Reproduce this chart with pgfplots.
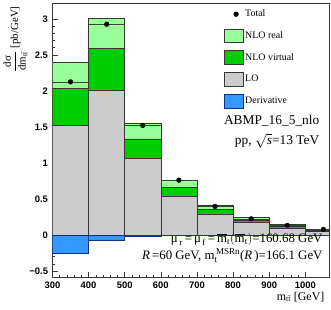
\documentclass[border=0pt]{standalone}
\usepackage{fontspec}
\setmainfont{Liberation Serif}
\newfontfamily\ticksf{Liberation Sans}
\usepackage{amsmath}
\usepackage{pgfplots}
\pgfplotsset{compat=1.18}
\definecolor{nloreal}{RGB}{153,255,153}
\definecolor{nlovirt}{RGB}{0,204,0}
\definecolor{lo}{RGB}{204,204,204}
\definecolor{deriv}{RGB}{51,153,255}
\definecolor{derivline}{RGB}{20,50,130}
\definecolor{edge}{RGB}{55,55,55}
\begin{document}
\begin{tikzpicture}
\begin{axis}[
  scale only axis, width=278.8pt, height=277pt,
  xmin=300, xmax=1065, ymin=-0.59, ymax=3.22,
  xtick={300,400,...,1000}, xticklabels={300,400,500,600,700,800,900,1000},
  minor x tick num=4,
  ytick={-0.5,0,0.5,1,1.5,2,2.5,3}, yticklabels={−0.5,0,0.5,1,1.5,2,2.5,3},
  minor y tick num=4,
  tick align=inside, tick pos=left,
  major tick length=6pt, minor tick length=3pt,
  every tick/.style={edge, line width=0.5pt},
  axis line style={edge, line width=0.6pt},
  ticklabel style={font=\ticksf\bfseries\fontsize{9.5}{10}\selectfont},
  /pgf/number format/assume math mode=true,
  xticklabel style={yshift=-1pt},
  yticklabel style={xshift=-1pt},
  xlabel={m$_{\text{t}\bar{\text{t}}}$ [GeV]},
  xlabel style={font=\fontsize{12}{14}\selectfont, at={(rel axis cs:1,0)}, anchor=north east, yshift=-11pt, xshift=-1pt},
  ylabel={$\dfrac{\text{dσ}}{\text{dm}_{\text{t}\bar{\text{t}}}}$ [pb/GeV]},
  ylabel style={font=\fontsize{11}{13}\selectfont, at={(rel axis cs:-0.078,1)}, anchor=south east},
  legend style={at={(rel axis cs:0.62,0.985)}, anchor=north west, draw=none, fill=none,
    font=\fontsize{10}{12}\selectfont, row sep=7.5pt, inner sep=0pt, legend cell align=left},
]
\addlegendimage{legend image code/.code={\path[draw=none,fill=none] (0pt,-7pt) rectangle (19pt,7pt); \fill[black] (12pt,0) circle (2.4pt);}}
\addlegendimage{legend image code/.code={\draw[fill=nloreal,draw=edge] (0pt,-7pt) rectangle (19pt,7pt);}}
\addlegendimage{legend image code/.code={\draw[fill=nlovirt,draw=edge] (0pt,-7pt) rectangle (19pt,7pt);}}
\addlegendimage{legend image code/.code={\draw[fill=lo,draw=edge] (0pt,-7pt) rectangle (19pt,7pt);}}
\addlegendimage{legend image code/.code={\draw[fill=deriv,draw=derivline] (0pt,-7pt) rectangle (19pt,7pt);}}
\legend{Total, NLO real, NLO virtual, LO, Derivative}

% NLO real (cumulative LO+V+R)
\addplot[ybar interval, fill=nloreal, draw=edge, line width=0.6pt, forget plot] coordinates {
(300,2.40)(400,3.01)(500,1.545)(600,0.765)(700,0.417)(800,0.242)(900,0.142)(1000,0.085)(1100,0.085)};
% NLO virtual (cumulative LO+V)
\addplot[ybar interval, fill=nlovirt, draw=edge, line width=0.6pt, forget plot] coordinates {
(300,2.03)(400,2.59)(500,1.335)(600,0.664)(700,0.36)(800,0.206)(900,0.12)(1000,0.07)(1100,0.07)};
% LO
\addplot[ybar interval, fill=lo, draw=edge, line width=0.6pt, forget plot] coordinates {
(300,1.517)(400,2.01)(500,1.06)(600,0.54)(700,0.29)(800,0.175)(900,0.096)(1000,0.055)(1100,0.055)};
% Derivative
\addplot[ybar interval, fill=deriv, draw=derivline, line width=0.6pt, forget plot] coordinates {
(300,-0.257)(400,-0.078)(500,-0.018)(600,-0.008)(700,-0.005)(800,-0.003)(900,-0.002)(1000,-0.001)(1100,-0.001)};
% Total line
\addplot[jump mark left, draw=black!75, line width=0.7pt, forget plot] coordinates {
(300,2.125)(400,2.925)(500,1.52)(600,0.76)(700,0.397)(800,0.224)(900,0.133)(1000,0.078)(1100,0.078)};
% Total points
\addplot[only marks, mark=*, mark size=2.4pt, black, forget plot] coordinates {
(350,2.125)(450,2.925)(550,1.52)(650,0.76)(750,0.397)(850,0.224)(950,0.133)(1050,0.078)};

\node[anchor=base east, font=\fontsize{13.5}{15}\selectfont] at (rel axis cs:0.978,0.556) {ABMP\_16\_5\_nlo};
\node[anchor=base east, font=\fontsize{13.5}{15}\selectfont] at (rel axis cs:0.978,0.484) {pp, $\sqrt{\textit{s}}$=13 TeV};
\node[anchor=base east, font=\fontsize{13}{15}\selectfont] at (rel axis cs:0.99,0.128) {$\text{μ}_{\,\text{r}}\,\text{=}\,\text{μ}_{\,\text{f}}\,\text{=}\,\overline{\text{m}}_{\text{t}}(\overline{\text{m}}_{\text{t}})$=160.68 GeV};
\node[anchor=base east, font=\fontsize{13}{15}\selectfont] at (rel axis cs:0.99,0.067) {\textit{R}\,=60 GeV, m$_{\text{t}}^{\,\text{MSRn}}$(\textit{R}\,)=166.1 GeV};
\end{axis}
\path (current axis.south west) ++(-50pt,-32pt) coordinate (bbl);
\path (current axis.north east) ++(2.2pt,3pt) coordinate (btr);
\path (bbl) rectangle (btr);
\end{tikzpicture}
\end{document}
